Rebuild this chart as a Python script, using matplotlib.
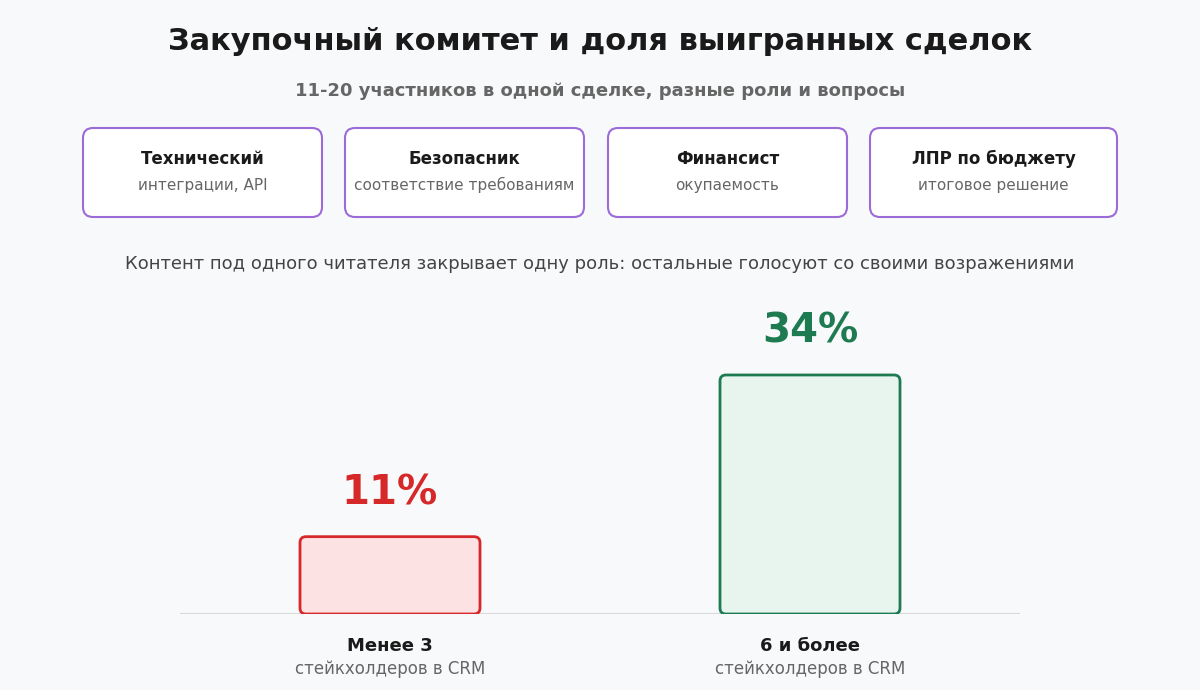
import matplotlib

matplotlib.use("Agg")
import matplotlib.pyplot as plt
from matplotlib.patches import FancyBboxPatch

plt.rcParams["font.family"] = ["DejaVu Sans"]

title = "Закупочный комитет и доля выигранных сделок"
subtitle = "11-20 участников в одной сделке, разные роли и вопросы"
roles = ["Технический", "Безопасник", "Финансист", "ЛПР по бюджету"]
role_notes = ["интеграции, API", "соответствие требованиям", "окупаемость", "итоговое решение"]
caption = "Контент под одного читателя закрывает одну роль: остальные голосуют со своими возражениями"
groups = ["Менее 3", "6 и более"]
group_notes = ["стейкхолдеров в CRM", "стейкхолдеров в CRM"]
win_rate = [11, 34]

W, H = 1200, 690
BG = "#f8f9fb"
edge_cols = ["#d62828", "#1e7a50"]
face_cols = ["#fde2e4", "#e8f5ef"]


def fy(py):
    return 1 - py / H


fig = plt.figure(figsize=(12, 6.9), dpi=100, facecolor=BG)

fig.text(0.5, fy(42), title, ha="center", va="center", fontsize=22, fontweight="bold", color="#1a1a1a")
fig.text(0.5, fy(91), subtitle, ha="center", va="center", fontsize=13, fontweight="bold", color="#666666")

# карточки ролей
cards = [(83, 322), (345, 584), (608, 847), (870, 1117)]
for (x0, x1), name, note in zip(cards, roles, role_notes):
    box = FancyBboxPatch((x0 / W, fy(217)), (x1 - x0) / W, 89 / H,
                         boxstyle=f"round,pad=0,rounding_size={10 / W}",
                         mutation_aspect=W / H, transform=fig.transFigure,
                         facecolor="white", edgecolor="#9b6bd8", linewidth=1.5)
    fig.patches.append(box)
    cx = (x0 + x1) / 2 / W
    fig.text(cx, fy(159), name, ha="center", va="center", fontsize=12, fontweight="bold", color="#1a1a1a")
    fig.text(cx, fy(185), note, ha="center", va="center", fontsize=11, color="#666666")

fig.text(0.5, fy(264), caption, ha="center", va="center", fontsize=13, color="#444444")

# столбцы
ax_top, ax_bot, ax_l, ax_r = 290, 614, 180, 1020
ax = fig.add_axes([ax_l / W, fy(ax_bot), (ax_r - ax_l) / W, (ax_bot - ax_top) / H])
ax.set_facecolor(BG)
px_per_pct = 7.03
ymax = (ax_bot - ax_top) / px_per_pct
ax.set_xlim(-0.5, 1.5)
ax.set_ylim(0, ymax)
ax.axis("off")
xu = 2 / (ax_r - ax_l)
yu = ymax / (ax_bot - ax_top)
bw = 180 * xu
for i, v in enumerate(win_rate):
    p = FancyBboxPatch((i - bw / 2, 0), bw, v, boxstyle=f"round,pad=0,rounding_size={6 * xu}",
                       mutation_aspect=yu / xu, facecolor=face_cols[i], edgecolor=edge_cols[i],
                       linewidth=2, zorder=3)
    ax.add_patch(p)
    ax.text(i, v + 43 * yu, f"{v}%", ha="center", va="center", fontsize=29,
            fontweight="bold", color=edge_cols[i])
ax.axhline(0, color="#d9d9d9", linewidth=1.5, zorder=2)

for i, (g, n) in enumerate(zip(groups, group_notes)):
    cx = (390 + 420 * i) / W
    fig.text(cx, fy(646), g, ha="center", va="center", fontsize=13, fontweight="bold", color="#1a1a1a")
    fig.text(cx, fy(669), n, ha="center", va="center", fontsize=12, color="#666666")

fig.savefig("out.png", dpi=100, facecolor=BG)
